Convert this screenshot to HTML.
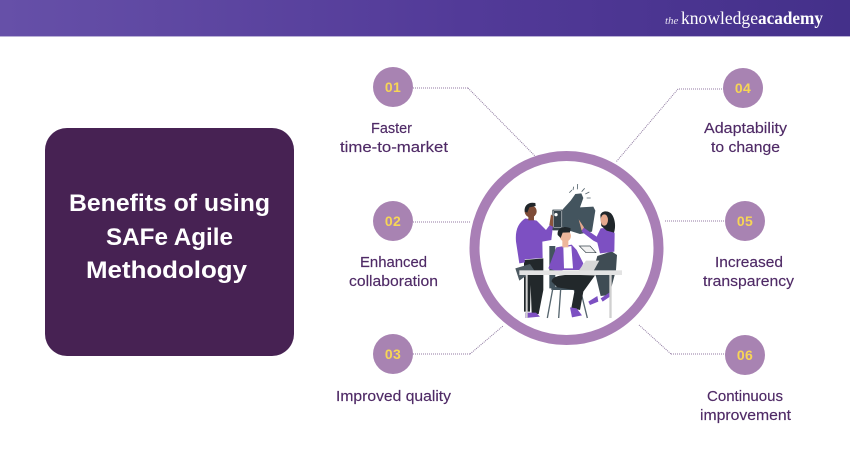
<!DOCTYPE html>
<html>
<head>
<meta charset="utf-8">
<style>
html,body{margin:0;padding:0;background:#fff;width:850px;height:450px;overflow:hidden}
svg{display:block}
text{font-family:"Liberation Sans",sans-serif}
.l{font-size:14.5px;fill:#4f2a66;text-anchor:middle;stroke:#4f2a66;stroke-width:.15px}
.n{font-size:14px;font-weight:700;fill:#f7d655;text-anchor:middle;letter-spacing:.4px}
.t{font-size:24px;font-weight:700;fill:#fff;text-anchor:middle}
</style>
</head>
<body>
<svg width="850" height="450" viewBox="0 0 850 450" xmlns="http://www.w3.org/2000/svg">
<defs>
<linearGradient id="h" x1="0" x2="1" y1="0" y2="0"><stop offset="0" stop-color="#6650a8"/><stop offset=".55" stop-color="#523a98"/><stop offset="1" stop-color="#44308a"/></linearGradient>
</defs>
<rect width="850" height="36" fill="url(#h)"/>
<rect y="36" width="850" height="1" fill="#b9b0d6"/>
<text x="665" y="24" font-size="11" font-style="italic" fill="#e6e0f2" style='font-family:"Liberation Serif",serif'>the</text>
<text x="681" y="24" font-size="17.5" fill="#fff" textLength="77" lengthAdjust="spacingAndGlyphs" style='font-family:"Liberation Serif",serif'>knowledge</text>
<text x="758" y="24" font-size="17.5" font-weight="700" fill="#fff" textLength="65" lengthAdjust="spacingAndGlyphs" style='font-family:"Liberation Serif",serif'>academy</text>

<rect x="45" y="128" width="249" height="228" rx="22" fill="#472253"/>
<text class="t" x="169.500" y="211" textLength="201" lengthAdjust="spacingAndGlyphs">Benefits of using</text>
<text class="t" x="169.500" y="245" textLength="127" lengthAdjust="spacingAndGlyphs">SAFe Agile</text>
<text class="t" x="166.500" y="278" textLength="161" lengthAdjust="spacingAndGlyphs">Methodology</text>

<g fill="none" stroke="#8f7aa0" stroke-width="1" stroke-dasharray="1 1">
<path d="M468 88L535 156"/>
<path d="M470 354L503 326"/>
<path d="M678 89L616 162"/>
<path d="M639 325L671 354"/>
</g>
<g fill="none" stroke="#b7a6c2" stroke-width="1.500" stroke-dasharray="1 1">
<path d="M413 88H468"/>
<path d="M413 222H470"/>
<path d="M413 354H470"/>
<path d="M724 89H678"/>
<path d="M665 221H725"/>
<path d="M671 354H726"/>
</g>

<circle cx="566.500" cy="248" r="92" fill="#fff" stroke="#a97fb6" stroke-width="10"/>

<g fill="#a883b2">
<circle cx="393" cy="87" r="20"/><circle cx="393" cy="221" r="20"/><circle cx="393" cy="354" r="20"/>
<circle cx="743" cy="88" r="20"/><circle cx="745" cy="221" r="20"/><circle cx="745" cy="355" r="20"/>
</g>
<text class="n" x="393" y="92">01</text><text class="n" x="393" y="226">02</text><text class="n" x="393" y="359">03</text>
<text class="n" x="743" y="93">04</text><text class="n" x="745" y="226">05</text><text class="n" x="745" y="360">06</text>

<text class="l" x="391.500" y="133" textLength="41" lengthAdjust="spacingAndGlyphs">Faster</text>
<text class="l" x="394" y="152" textLength="108" lengthAdjust="spacingAndGlyphs">time-to-market</text>
<text class="l" x="393.500" y="267" textLength="67" lengthAdjust="spacingAndGlyphs">Enhanced</text>
<text class="l" x="393.500" y="286" textLength="89" lengthAdjust="spacingAndGlyphs">collaboration</text>
<text class="l" x="393.500" y="401" textLength="115" lengthAdjust="spacingAndGlyphs">Improved quality</text>
<text class="l" x="745.500" y="133" textLength="83" lengthAdjust="spacingAndGlyphs">Adaptability</text>
<text class="l" x="745.500" y="152" textLength="69" lengthAdjust="spacingAndGlyphs">to change</text>
<text class="l" x="749" y="267" textLength="68" lengthAdjust="spacingAndGlyphs">Increased</text>
<text class="l" x="748.500" y="286" textLength="91" lengthAdjust="spacingAndGlyphs">transparency</text>
<text class="l" x="745" y="401" textLength="76" lengthAdjust="spacingAndGlyphs">Continuous</text>
<text class="l" x="745.500" y="420" textLength="91" lengthAdjust="spacingAndGlyphs">improvement</text>

<g transform="translate(480 170) scale(.33333)">
<!-- rays -->
<g stroke="#56656e" stroke-width="2.500" fill="none"><path d="M268 68L276 60M279 60L281 50M292 58L293 42M305 65L314 55M316 72L328 66M320 84L332 84"/></g>
<!-- thumb -->
<path d="M248 118L272 92L286 72L304 70L310 84L300 112L340 110L346 122L336 185L300 192L262 180L248 170Z" fill="#43545e"/>
<rect x="217" y="119" width="31" height="62" rx="2" fill="#35434c"/>
<circle cx="228" cy="134" r="5" fill="#fff"/>
<path d="M221 122H244V172H221Z" fill="none" stroke="#dfe3e6" stroke-width="1.500"/>
<!-- man left -->
<path d="M132 270L190 265L190 360L176 432H155L152 345L150 425H132Z" fill="#22282b"/>
<path d="M136 428H168L180 440L136 444Z" fill="#7f4fc2"/>
<path d="M136 145C115 158 105 180 108 215L118 280L135 277L134 268L188 264L187 215L214 210L219 166L210 164L198 180L170 152Z" fill="#7d50c2"/>
<circle cx="152" cy="124" r="18" fill="#7e4c37"/>
<path d="M134 125C132 105 146 95 166 99L167 108L148 112L142 128Z" fill="#20262a"/>
<rect x="145" y="136" width="17" height="15" fill="#7e4c37"/>
<path d="M208 165L213 133L220 140L219 170Z" fill="#8a553e"/>
<path d="M106 295L150 282L162 300L118 332Z" fill="#4d5a62"/>
<!-- woman -->
<path d="M340 300L352 258L395 244L411 255L408 300L388 375L362 378L348 320Z" fill="#3f4c54"/>
<path d="M325 395L352 378L355 395L330 405ZM362 385L388 368L390 380L368 395Z" fill="#7d50c2"/>
<path d="M310 172L350 200L362 175L395 172L404 190L403 245L360 250L352 218L340 212L305 185Z" fill="#7d50c2"/>
<path d="M361 135C365 120 390 120 398 137C405 150 408 170 402 188L380 182L364 168Z" fill="#20262a"/>
<ellipse cx="373" cy="150" rx="11" ry="17" fill="#e6a98e"/>
<path d="M296 148L312 172L305 182Z" fill="#e6a98e"/>
<path d="M298 228H330L348 248H318Z" fill="#f2f2f2" stroke="#3a464d" stroke-width="2"/>
<!-- chair -->
<path d="M208 228H226V355H208Z" fill="#43545e"/>
<path d="M214 350H285V360H214Z" fill="#43545e"/>
<path d="M218 358L202 444M242 358L236 444M282 358L300 400M305 375L322 444" stroke="#56656e" stroke-width="4" fill="none"/>
<!-- seated man -->
<path d="M215 335C215 320 240 312 300 315L345 316L310 365L300 420L274 414L284 360L232 352Z" fill="#22282b"/>
<path d="M270 412L290 415L306 436L276 442Z" fill="#7d50c2"/>
<path d="M229 232L275 224L290 240L310 280L300 300H250L235 305L205 295Z" fill="#7d50c2"/>
<path d="M250 232L274 228L279 295H252Z" fill="#fff"/>
<circle cx="256" cy="198" r="17" fill="#eeb79b"/>
<rect x="247" y="210" width="18" height="22" fill="#eeb79b"/>
<path d="M233 195C230 175 250 165 272 175L270 187L248 188L242 204Z" fill="#20262a"/>
<path d="M296 302L318 272H358L340 304Z" fill="#d7d7d7"/>
<!-- table -->
<rect x="118" y="301" width="308" height="14" fill="#e3e3e3"/>
<path d="M137 315V444H143V315ZM388 315V444H395V315Z" fill="#d0d0d0"/>
</g>
</svg>
</body>
</html>
